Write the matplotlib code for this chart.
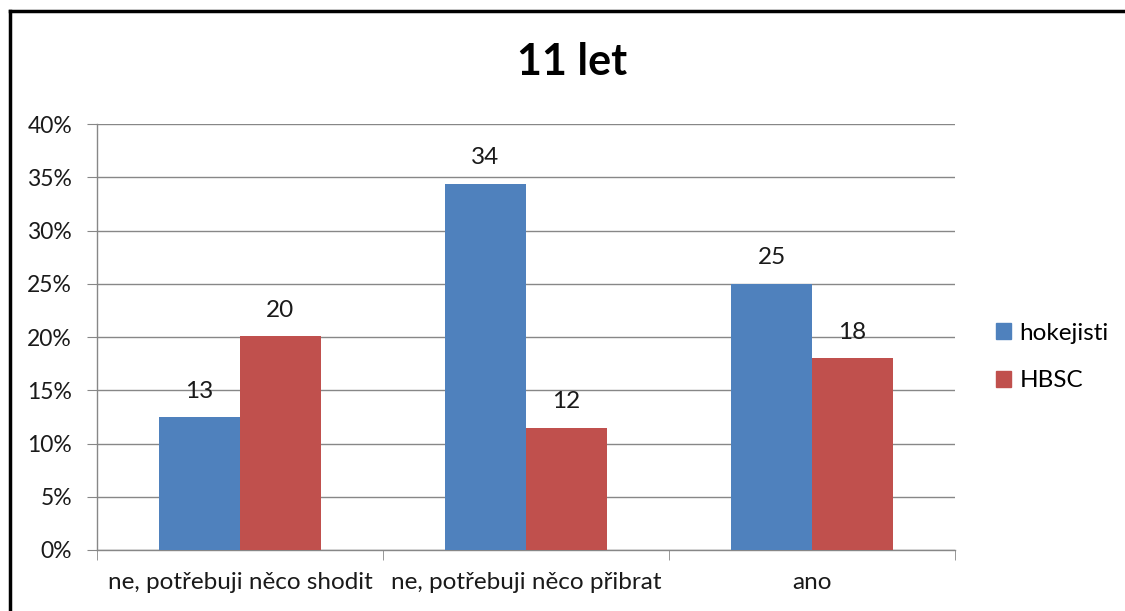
import matplotlib
matplotlib.use("Agg")
import matplotlib.pyplot as plt
from matplotlib.lines import Line2D
import numpy as np
from decimal import Decimal, ROUND_HALF_UP

categories = ["ne, potřebuji něco shodit", "ne, potřebuji něco přibrat", "ano"]
series_names = ["hokejisti", "HBSC"]
hokejisti = [12.5, 34.4, 25.0]
hbsc = [20.1, 11.5, 18.0]
y_ticks = [0, 5, 10, 15, 20, 25, 30, 35, 40]
title = "11 let"

colors = ["#4F81BD", "#C0504D"]
grid_color = "#878787"
text_color = "#1a1a1a"

plt.rcParams["font.family"] = ["Lato", "DejaVu Sans"]

fig = plt.figure(figsize=(11.25, 6.11), dpi=100)
ax = fig.add_axes([97 / 1125, 61 / 611, 858 / 1125, 426 / 611])

x = np.arange(len(categories))
width = 0.283
for i, (vals, name) in enumerate(zip([hokejisti, hbsc], series_names)):
    offs = (i - 0.5) * width
    bars = ax.bar(x + offs, vals, width=width, color=colors[i], label=name, zorder=3)
    for b, v in zip(bars, vals):
        lbl = str(Decimal(str(v)).quantize(Decimal("1"), rounding=ROUND_HALF_UP))
        ax.annotate(lbl, (b.get_x() + b.get_width() / 2, v), xytext=(0, 11),
                    textcoords="offset points", ha="center", va="bottom",
                    fontsize=17.5, color=text_color)

ax.set_xlim(-0.5, len(categories) - 0.5)
ax.set_ylim(0, 40)
ax.set_yticks(y_ticks)
ax.set_yticklabels([f"{t}%" for t in y_ticks], fontsize=16.5, color=text_color)
ax.yaxis.grid(True, color=grid_color, linewidth=1, zorder=0)
ax.tick_params(axis="y", length=7, color=grid_color, pad=11)

ax.set_xticks(x)
ax.set_xticklabels(categories, fontsize=17.5, color=text_color)
ax.set_xticks(np.arange(-0.5, len(categories)), minor=True)
ax.tick_params(axis="x", which="major", length=0, pad=16)
ax.tick_params(axis="x", which="minor", length=7, color=grid_color)

for side in ["top", "right"]:
    ax.spines[side].set_visible(False)
for side in ["left", "bottom"]:
    ax.spines[side].set_color(grid_color)
    ax.spines[side].set_linewidth(1)

fig.text(572 / 1125, 1 - 62 / 611, title, ha="center", va="center",
         fontsize=31, fontweight="bold", color="#000000")

handles = [plt.Rectangle((0, 0), 1, 1, color=c) for c in colors]
fig.legend(handles, series_names, loc="center left",
           bbox_to_anchor=(977 / 1125, 1 - 357 / 611), frameon=False,
           fontsize=17.5, handlelength=0.6, handleheight=0.6, handletextpad=0.35,
           labelspacing=1.1, borderpad=0.3)

# outer frame (top and left edges)
fig.add_artist(Line2D([10 / 1125, 1], [1 - 11 / 611, 1 - 11 / 611],
                      transform=fig.transFigure, color="black", linewidth=2.5))
fig.add_artist(Line2D([10 / 1125, 10 / 1125], [0, 1 - 11 / 611],
                      transform=fig.transFigure, color="black", linewidth=2.5))

fig.savefig("out.png", dpi=100)
